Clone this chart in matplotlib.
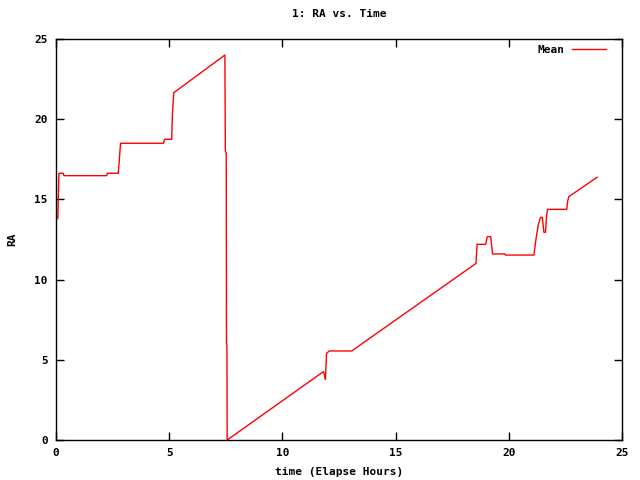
import matplotlib
matplotlib.use('Agg')
import matplotlib.pyplot as plt

# elapsed time (hours) and mean RA
hours = [0.03, 0.08, 0.10, 0.13, 0.32, 0.35, 2.24, 2.27, 2.75, 2.78, 2.85,
         4.74, 4.80, 5.11, 5.14, 5.20, 7.46, 7.48, 7.52, 7.53, 7.55, 7.56,
         11.81, 11.85, 11.90, 11.95, 12.07, 13.06, 18.55, 18.60, 18.98,
         19.05, 19.20, 19.28, 19.83, 19.85, 21.11, 21.20, 21.30, 21.40,
         21.48, 21.55, 21.62, 21.67, 21.71, 22.56, 22.60, 22.65, 23.90]
ra = [13.8, 13.8, 15.0, 16.63, 16.63, 16.48, 16.48, 16.63, 16.63, 17.14, 18.5,
      18.5, 18.75, 18.75, 20.2, 21.65, 24.0, 18.0, 17.9, 6.0, 5.9, 0.0,
      4.26, 4.1, 3.78, 5.4, 5.55, 5.55, 11.01, 12.2, 12.2,
      12.68, 12.68, 11.6, 11.6, 11.53, 11.53, 12.51, 13.4, 13.88,
      13.88, 12.95, 12.95, 14.0, 14.38, 14.38, 14.9, 15.17, 16.38]

plt.rcParams['font.family'] = ['DejaVu Sans Mono']
plt.rcParams['font.weight'] = 'bold'
plt.rcParams['font.size'] = 8

fig = plt.figure(figsize=(6.4, 4.8), dpi=100)
ax = fig.add_axes([56 / 640, 40 / 480, 566 / 640, 401 / 480])
ax.plot(hours, ra, color='red', linewidth=1.0, label='Mean')

ax.set_xlim(0, 25)
ax.set_ylim(0, 25)
ax.set_xticks([0, 5, 10, 15, 20, 25])
ax.set_yticks([0, 5, 10, 15, 20, 25])
ax.tick_params(direction='in', length=6, width=1, top=True, right=True, pad=6)
for s in ax.spines.values():
    s.set_linewidth(1)

ax.set_title('1: RA vs. Time', fontsize=8, fontweight='bold', pad=16)
ax.set_xlabel('time (Elapse Hours)', fontweight='bold', labelpad=6)
ax.set_ylabel('RA', fontweight='bold', labelpad=12)

leg = ax.legend(loc='upper right', bbox_to_anchor=(0.9795, 0.9965),
                frameon=False, markerfirst=False, borderaxespad=0,
                handlelength=3.1, handletextpad=0.6)

fig.savefig('out.png', dpi=100)
